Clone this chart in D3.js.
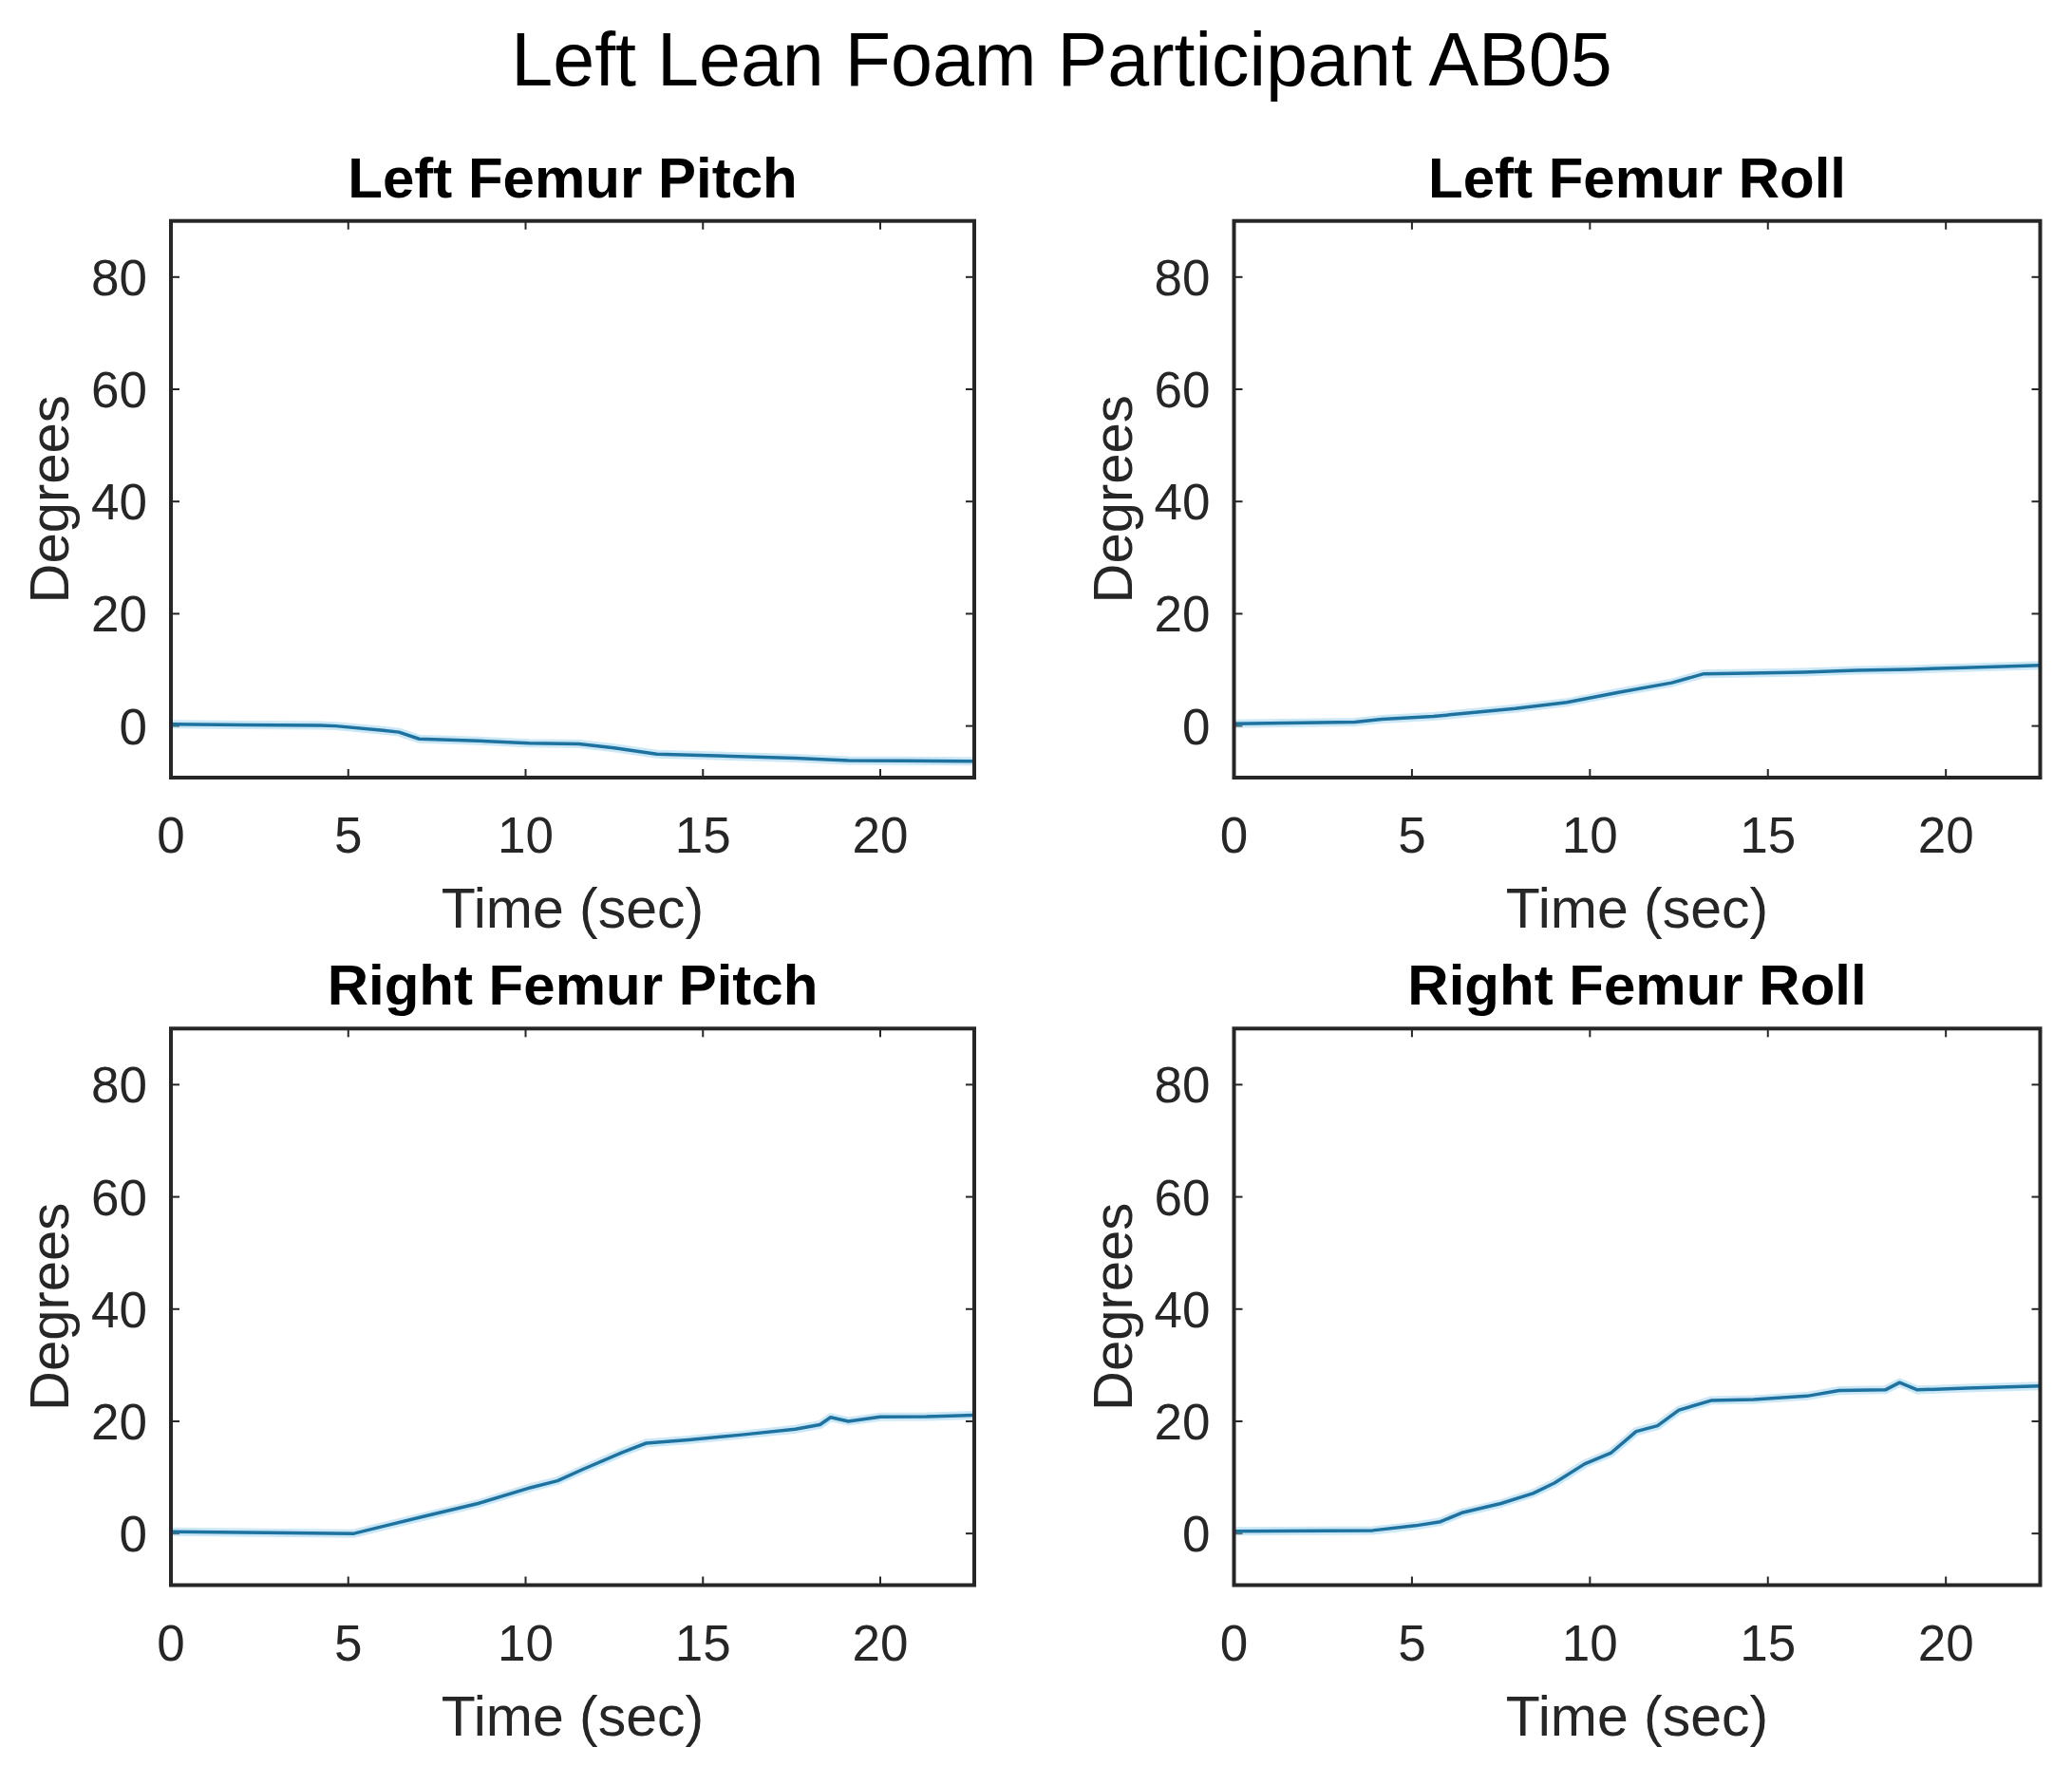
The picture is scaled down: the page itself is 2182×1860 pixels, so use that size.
<!DOCTYPE html>
<html>
<head>
<meta charset="utf-8">
<script src="https://cdn.jsdelivr.net/npm/d3@7"></script>
<style>
  body { margin: 0; background: #fff; }
  text { font-family: "Liberation Sans", Arial, Helvetica, sans-serif; }
</style>
</head>
<body>
<svg id="fig" width="2182" height="1860"></svg>
<script>
// Left Lean Foam, participant AB05 -- four femur angle traces

var figTitle = "Left Lean Foam Participant AB05";
var panelTitles = ["Left Femur Pitch", "Left Femur Roll", "Right Femur Pitch", "Right Femur Roll"];
var xTicks = [0, 5, 10, 15, 20];
var yTicks = [0, 20, 40, 60, 80];
var xLabel = "Time (sec)";
var yLabel = "Degrees";

// [time (sec), degrees]
var leftPitch = [[0, 0.3], [4.2, 0.1], [4.64, 0], [5.98, -0.8], [6.43, -1.1], [7.0, -2.3],
  [8.66, -2.65], [10.1, -3.05], [11.5, -3.2], [12.5, -3.9], [13.1, -4.45], [13.7, -5.0],
  [15.4, -5.3], [17.6, -5.75], [19.1, -6.15], [20.6, -6.2], [22.65, -6.3]];
var leftRoll = [[0, 0.4], [3.4, 0.7], [4.15, 1.2], [5.6, 1.7], [6.7, 2.4], [7.9, 3.1],
  [9.35, 4.2], [10.8, 6.0], [12.3, 7.7], [13.2, 9.3], [14.5, 9.4], [16.0, 9.6],
  [17.5, 9.9], [19.0, 10.1], [20.5, 10.4], [22.65, 10.8]];
var rightPitch = [[0, 0.3], [2.7, 0.15], [5.16, 0], [5.7, 0.85], [7.17, 3.1], [8.66, 5.35],
  [10.15, 8.2], [10.9, 9.4], [11.6, 11.4], [12.7, 14.4], [13.4, 16.1], [14.6, 16.7],
  [16.1, 17.6], [17.6, 18.6], [18.3, 19.4], [18.6, 20.7], [19.1, 20.0], [20.0, 20.8],
  [21.3, 20.85], [22.65, 21.1]];
var rightRoll = [[0, 0.4], [3.9, 0.55], [5.1, 1.4], [5.8, 2.1], [6.4, 3.7], [7.5, 5.35],
  [8.4, 7.15], [9.0, 9.0], [9.85, 12.4], [10.6, 14.4], [11.3, 18.2], [11.9, 19.2],
  [12.5, 22.0], [13.4, 23.7], [14.6, 23.9], [16.1, 24.5], [17.0, 25.5], [18.3, 25.6],
  [18.7, 26.9], [19.2, 25.6], [20.6, 25.9], [22.65, 26.3]];

var seriesList = [leftPitch, leftRoll, rightPitch, rightRoll];

var xDomain = [0, 22.65];
var yDomain = [-9.2, 90];

// panel boxes in pixels
var cols = [[180, 1026], [1299.5, 2148.5]];
var rows = [[232.7, 819], [1083.3, 1669.5]];

var svg = d3.select("#fig");
var axisColor = "#262626";

svg.append("text")
  .attr("x", 1118).attr("y", 90)
  .attr("text-anchor", "middle")
  .style("font-size", "79px")
  .attr("fill", "#000")
  .text(figTitle);

seriesList.forEach(function (series, i) {
  var c = cols[i % 2], r = rows[Math.floor(i / 2)];
  var x = d3.scaleLinear().domain(xDomain).range(c);
  var y = d3.scaleLinear().domain(yDomain).range([r[1], r[0]]);
  var g = svg.append("g");
  var cx = (c[0] + c[1]) / 2, cy = (r[0] + r[1]) / 2;

  // inward ticks on all four sides
  var tickLen = 9;
  g.selectAll("line.xt").data(xTicks).enter().append("line")
    .attr("x1", function (d) { return x(d); }).attr("x2", function (d) { return x(d); })
    .attr("y1", r[1]).attr("y2", r[1] - tickLen)
    .attr("stroke", axisColor).attr("stroke-width", 2);
  g.selectAll("line.xt2").data(xTicks).enter().append("line")
    .attr("x1", function (d) { return x(d); }).attr("x2", function (d) { return x(d); })
    .attr("y1", r[0]).attr("y2", r[0] + tickLen)
    .attr("stroke", axisColor).attr("stroke-width", 2);
  g.selectAll("line.yt").data(yTicks).enter().append("line")
    .attr("y1", function (d) { return y(d); }).attr("y2", function (d) { return y(d); })
    .attr("x1", c[0]).attr("x2", c[0] + tickLen)
    .attr("stroke", axisColor).attr("stroke-width", 2);
  g.selectAll("line.yt2").data(yTicks).enter().append("line")
    .attr("y1", function (d) { return y(d); }).attr("y2", function (d) { return y(d); })
    .attr("x1", c[1]).attr("x2", c[1] - tickLen)
    .attr("stroke", axisColor).attr("stroke-width", 2);

  // tick labels
  g.selectAll("text.xl").data(xTicks).enter().append("text")
    .attr("x", function (d) { return x(d); }).attr("y", r[1] + 79)
    .attr("text-anchor", "middle")
    .style("font-size", "53px").attr("fill", axisColor)
    .text(function (d) { return d; });
  g.selectAll("text.yl").data(yTicks).enter().append("text")
    .attr("x", c[0] - 25).attr("y", function (d) { return y(d) + 19; })
    .attr("text-anchor", "end")
    .style("font-size", "53px").attr("fill", axisColor)
    .text(function (d) { return d; });

  // trace
  var line = d3.line()
    .x(function (d) { return x(d[0]); })
    .y(function (d) { return y(d[1]); });
  g.append("path").datum(series)
    .attr("d", line).attr("fill", "none")
    .attr("stroke", "#8fcdee").attr("stroke-opacity", 0.45)
    .attr("stroke-width", 9);
  g.append("path").datum(series)
    .attr("d", line).attr("fill", "none")
    .attr("stroke", "#1d72a0").attr("stroke-width", 3.5)
    .attr("stroke-linejoin", "round");

  // box
  g.append("rect")
    .attr("x", c[0]).attr("y", r[0])
    .attr("width", c[1] - c[0]).attr("height", r[1] - r[0])
    .attr("fill", "none").attr("stroke", axisColor).attr("stroke-width", 4);

  // labels
  g.append("text")
    .attr("x", cx).attr("y", r[1] + 158)
    .attr("text-anchor", "middle")
    .style("font-size", "59px").attr("fill", axisColor)
    .text(xLabel);
  g.append("text")
    .attr("transform", "translate(" + (c[0] - 108) + "," + cy + ") rotate(-90)")
    .attr("text-anchor", "middle")
    .style("font-size", "58px").attr("fill", axisColor)
    .text(yLabel);
  g.append("text")
    .attr("x", cx).attr("y", r[0] - 25)
    .attr("text-anchor", "middle")
    .style("font-size", "60px").style("font-weight", "bold")
    .attr("fill", "#000")
    .text(panelTitles[i]);
});
</script>
</body>
</html>
